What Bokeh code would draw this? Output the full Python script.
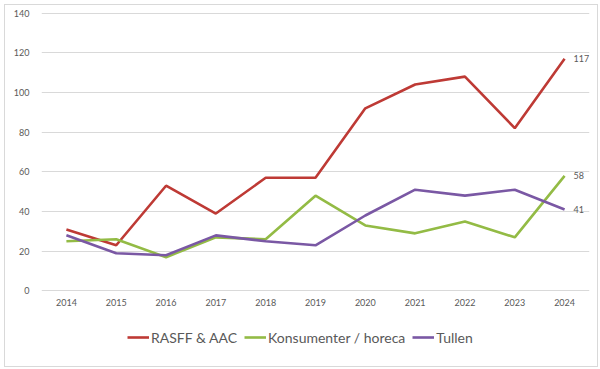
from bokeh.plotting import figure
from bokeh.layouts import column
from bokeh.models import FactorRange, Range1d, Legend, LegendItem, SingleIntervalTicker, ColumnDataSource
from bokeh.core.properties import value
from bokeh.embed import file_html
from bokeh.resources import INLINE

years = ["2014", "2015", "2016", "2017", "2018", "2019", "2020", "2021", "2022", "2023", "2024"]
rasff = [31, 23, 53, 39, 57, 57, 92, 104, 108, 82, 117]
konsument = [25, 26, 17, 27, 26, 48, 33, 29, 35, 27, 58]
tullen = [28, 19, 18, 28, 25, 23, 38, 51, 48, 51, 41]
names = ["RASFF & AAC", "Konsumenter / horeca", "Tullen"]
colors = ["#BE3A35", "#93BB45", "#7A58A4"]
series = [rasff, konsument, tullen]

FONT = "Lato"
GREY = "#595959"

p = figure(width=592, height=307, output_backend="svg", toolbar_location=None,
           x_range=FactorRange(factors=years), y_range=Range1d(-0.3, 140.3),
           min_border_left=36, min_border_right=8, min_border_top=7, min_border_bottom=21)
p.outline_line_color = None
p.background_fill_color = "white"
p.border_fill_color = "white"

p.xgrid.grid_line_color = None
p.ygrid.grid_line_color = "#D9D9D9"
p.ygrid.grid_line_width = 1
p.yaxis.ticker = SingleIntervalTicker(interval=20)
for ax in (p.xaxis, p.yaxis):
    ax.axis_line_color = None
    ax.major_tick_line_color = None
    ax.minor_tick_line_color = None
    ax.major_label_text_font = FONT
    ax.major_label_text_font_size = "9px"
    ax.major_label_text_color = GREY
p.xaxis.major_label_standoff = 1
p.yaxis.major_label_standoff = 6

for vals, col in zip(series, colors):
    p.line(years, vals, line_color=col, line_width=2.6)
    src = ColumnDataSource(dict(x=[years[-1]], y=[vals[-1]], t=[str(vals[-1])]))
    p.text(x="x", y="y", text="t", source=src, x_offset=9, text_baseline="middle",
           text_font=value(FONT), text_font_size="9px", text_color=GREY)

# legend panel (proxy lines drawn outside its visible range)
p2 = figure(width=592, height=54, output_backend="svg", toolbar_location=None,
            x_range=Range1d(0, 1), y_range=Range1d(0, 1), min_border=0)
p2.axis.visible = False
p2.grid.grid_line_color = None
p2.outline_line_color = None
p2.border_fill_color = "white"
items = []
for name, col, vals in zip(names, colors, series):
    r = p2.line(list(range(len(vals))), vals, line_color=col, line_width=2.6)
    items.append(LegendItem(label=name, renderers=[r]))
legend = Legend(items=items, orientation="horizontal", location=(86, 19),
                label_text_font=FONT, label_text_font_size="14px", label_text_color=GREY,
                glyph_width=22, label_standoff=2, spacing=7, border_line_color=None,
                background_fill_alpha=0, margin=0, padding=4)
p2.add_layout(legend, "center")

layout = column(p, p2, spacing=0, styles={"border": "1px solid #D9D9D9"}, margin=(4, 0, 0, 4))

open("out.html", "w").write(file_html(layout, INLINE))
